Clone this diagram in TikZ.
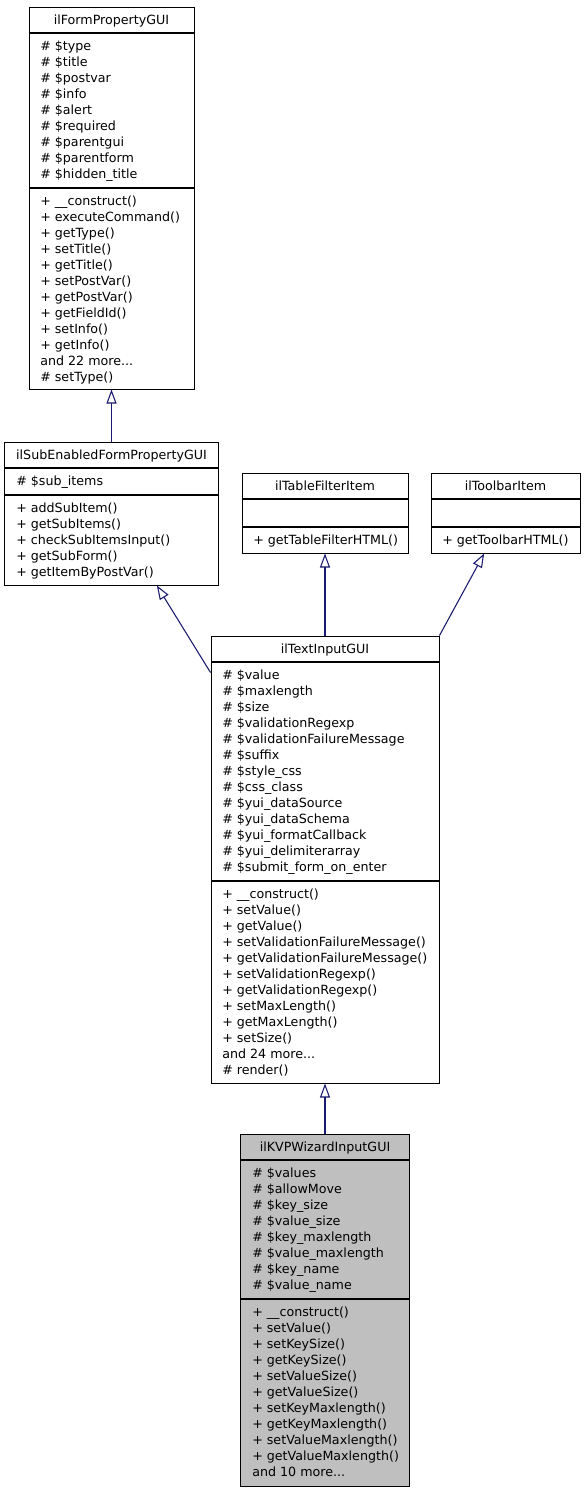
\documentclass[tikz,border=0pt]{standalone}
\usepackage{fontspec}
\setmainfont{DejaVu Sans}
\usetikzlibrary{arrows.meta,calc}
\definecolor{edgeblue}{HTML}{191970}
\definecolor{hlgray}{HTML}{BFBFBF}
\tikzset{
  cls/.style={draw=black, line width=0.75pt, fill=white, inner sep=0pt, rectangle},
  hl/.style={cls, fill=hlgray},
  sep/.style={draw=black, line width=1.1pt},
  ttl/.style={inner sep=0pt, font=\fontsize{9.5}{12}\selectfont, anchor=mid},
  mem/.style={inner sep=0pt, font=\fontsize{9.5}{12}\selectfont, anchor=mid west},
  inh/.style={draw=edgeblue, line width=0.8pt, -{Triangle[open, length=10.5pt, width=7.5pt]}},
}
\begin{document}
\begin{tikzpicture}[x=0.75pt, y=-0.75pt]
\useasboundingbox (0,0) rectangle (584,1493);

% ---------------- ilFormPropertyGUI ----------------
\node[cls, minimum width=123.75pt, minimum height=286.5pt] (form) at (111.5,198) {};
\draw[sep] (29,33) -- (194,33);
\draw[sep] (29,188) -- (194,188);
\node[ttl] (formT) at (111.5,21) {ilFormPropertyGUI};
\foreach \t [count=\k from 0] in {\# \$type, \# \$title, \# \$postvar, \# \$info, \# \$alert, \# \$required, \# \$parentgui, \# \$parentform, \# \$hidden\_title}
  \node[mem] (formA\k) at (40,47+16*\k) {\t};
\foreach \t [count=\k from 0] in {+ \_\_construct(), + executeCommand(), + getType(), + setTitle(), + getTitle(), + setPostVar(), + getPostVar(), + getFieldId(), + setInfo(), + getInfo(), and 22 more.{}.{}., \# setType()}
  \node[mem] (formM\k) at (40,202+16*\k) {\t};

% ---------------- ilSubEnabledFormPropertyGUI ----------------
\node[cls, minimum width=160.5pt, minimum height=107.25pt] (sub) at (111.5,513.5) {};
\draw[sep] (4.5,468) -- (218.5,468);
\draw[sep] (4.5,495) -- (218.5,495);
\node[ttl] (subT) at (111.5,456) {ilSubEnabledFormPropertyGUI};
\node[mem] (subA0) at (16,482) {\# \$sub\_items};
\foreach \t [count=\k from 0] in {+ addSubItem(), + getSubItems(), + checkSubItemsInput(), + getSubForm(), + getItemByPostVar()}
  \node[mem] (subM\k) at (16,509+16*\k) {\t};

% ---------------- ilTableFilterItem ----------------
\node[cls, minimum width=124.5pt, minimum height=60pt] (tab) at (325,513) {};
\draw[sep] (242,499) -- (408,499);
\draw[sep] (242,527) -- (408,527);
\node[ttl] (tabT) at (325,487) {ilTableFilterItem};
\node[mem] (tabM0) at (253,541) {+ getTableFilterHTML()};

% ---------------- ilToolbarItem ----------------
\node[cls, minimum width=111.75pt, minimum height=60pt] (tool) at (505.5,513) {};
\draw[sep] (431,499) -- (580,499);
\draw[sep] (431,527) -- (580,527);
\node[ttl] (toolT) at (505.5,487) {ilToolbarItem};
\node[mem] (toolM0) at (442,541) {+ getToolbarHTML()};

% ---------------- ilTextInputGUI ----------------
\node[cls, minimum width=171pt, minimum height=335.25pt] (txt) at (325,859.5) {};
\draw[sep] (211,662) -- (439,662);
\draw[sep] (211,881) -- (439,881);
\node[ttl] (txtT) at (325,650) {ilTextInputGUI};
\foreach \t [count=\k from 0] in {\# \$value, \# \$maxlength, \# \$size, \# \$validationRegexp, \# \$validationFailureMessage, \# \$suffix, \# \$style\_css, \# \$css\_class, \# \$yui\_dataSource, \# \$yui\_dataSchema, \# \$yui\_formatCallback, \# \$yui\_delimiterarray, \# \$submit\_form\_on\_enter}
  \node[mem] (txtA\k) at (222,676+16*\k) {\t};
\foreach \t [count=\k from 0] in {+ \_\_construct(), + setValue(), + getValue(), + setValidationFailureMessage(), + getValidationFailureMessage(), + setValidationRegexp(), + getValidationRegexp(), + setMaxLength(), + getMaxLength(), + setSize(), and 24 more.{}.{}., \# render()}
  \node[mem] (txtM\k) at (222,895+16*\k) {\t};

% ---------------- ilKVPWizardInputGUI ----------------
\node[hl, minimum width=126.75pt, minimum height=264pt] (kvp) at (325,1310) {};
\draw[sep] (240.5,1160) -- (409.5,1160);
\draw[sep] (240.5,1299) -- (409.5,1299);
\node[ttl] (kvpT) at (325,1148) {ilKVPWizardInputGUI};
\foreach \t [count=\k from 0] in {\# \$values, \# \$allowMove, \# \$key\_size, \# \$value\_size, \# \$key\_maxlength, \# \$value\_maxlength, \# \$key\_name, \# \$value\_name}
  \node[mem] (kvpA\k) at (252,1174+16*\k) {\t};
\foreach \t [count=\k from 0] in {+ \_\_construct(), + setValue(), + setKeySize(), + getKeySize(), + setValueSize(), + getValueSize(), + setKeyMaxlength(), + getKeyMaxlength(), + setValueMaxlength(), + getValueMaxlength(), and 10 more.{}.{}.}
  \node[mem] (kvpM\k) at (252,1313+16*\k) {\t};

% ---------------- inheritance edges ----------------
\draw[inh] (sub.north) -- (form.south);
\draw[inh] ([yshift=-27.75pt]txt.north west) -- ([xshift=34pt]sub.south);
\draw[inh] (txt.north) -- (tab.south);
\draw[inh] (txt.north east) -- ([xshift=-16pt]tool.south);
\draw[inh] (kvp.north) -- (txt.south);
\end{tikzpicture}
\end{document}
